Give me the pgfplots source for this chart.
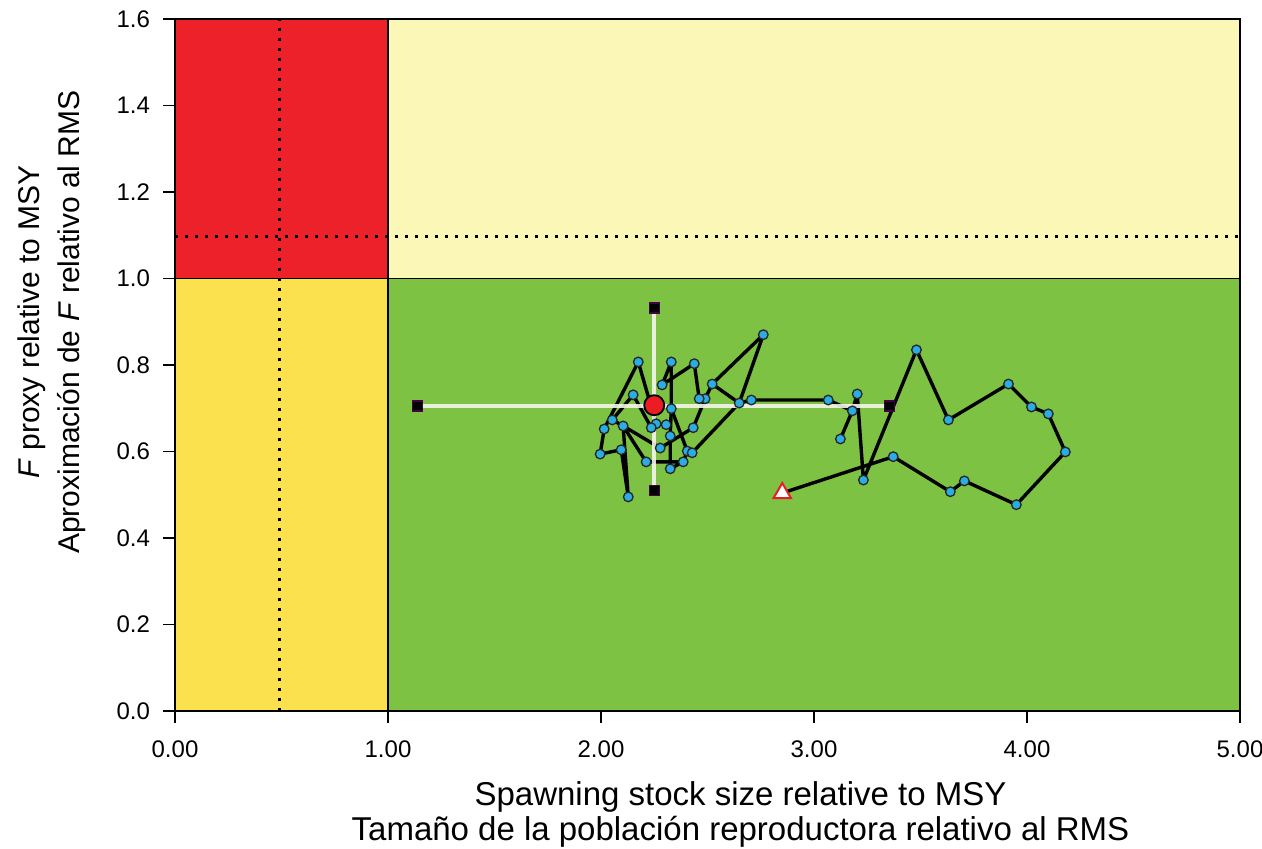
\documentclass[border=0pt]{standalone}
\usepackage{pgfplots}
\pgfplotsset{compat=1.18}
\usetikzlibrary{calc}
\usepackage{fontspec}
\setmainfont{Liberation Sans}
\definecolor{cRed}{HTML}{ED2129}
\definecolor{cLY}{HTML}{FAF7B7}
\definecolor{cY}{HTML}{FAE14D}
\definecolor{cG}{HTML}{7DC243}
\definecolor{cBlue}{HTML}{2BACE2}
\definecolor{cCI}{HTML}{F4F4EC}
\definecolor{cDot}{HTML}{ED1C24}
\begin{document}
\begin{tikzpicture}
\begin{axis}[
  scale only axis, width=532.5pt, height=346pt,
  xmin=0, xmax=5, ymin=0, ymax=1.6,
  xtick={0,1,2,3,4,5},
  ytick={0,0.2,0.4,0.6,0.8,1.0,1.2,1.4,1.6},
  tick pos=left, tick align=outside,
  major tick length=6pt,
  tick style={black, line width=0.75pt},
  axis line style={black, line width=0.9pt},
  axis on top,
  xticklabel shift=5.5pt,
  yticklabel shift=3pt,
  xticklabel style={font=\fontsize{12}{14}\selectfont, /pgf/number format/.cd, fixed, fixed zerofill, precision=2},
  yticklabel style={font=\fontsize{12}{14}\selectfont, /pgf/number format/.cd, fixed, fixed zerofill, precision=1},
  /pgf/number format/assume math mode=true,
  xlabel={Spawning stock size relative to MSY\\Tamaño de la población reproductora relativo al RMS},
  xlabel style={align=center, font=\fontsize{16.5}{17.5}\selectfont, at={(axis description cs:0.531,-0.0916)}, anchor=north},
  ylabel={\textit{F} proxy relative to MSY\\Aproximación de \textit{F} relativo al RMS},
  ylabel style={align=center, font=\fontsize{15}{20}\selectfont, at={(axis description cs:-0.077,0.562)}, anchor=south, rotate=0},
]
\coordinate (ll) at (rel axis cs:0,0);
\coordinate (ur) at (rel axis cs:1,1);
% regions
\addplot[fill=cRed, draw=none] coordinates {(0,1) (1,1) (1,1.6) (0,1.6) (0,1)};
\addplot[fill=cLY, draw=none] coordinates {(1,1) (5,1) (5,1.6) (1,1.6) (1,1)};
\addplot[fill=cY, draw=none] coordinates {(0,0) (1,0) (1,1) (0,1) (0,0)};
\addplot[fill=cG, draw=none] coordinates {(1,0) (5,0) (5,1) (1,1) (1,0)};
% reference lines
\addplot[black, line width=1.5pt, dash pattern=on 1.4pt off 3.6pt] coordinates {(0.49,0) (0.49,1.6)};
\addplot[black, line width=1.5pt, dash pattern=on 1.4pt off 3.6pt] coordinates {(0,1.097) (5,1.097)};
\addplot[black, line width=0.9pt] coordinates {(1,0) (1,1.6)};
\addplot[black, line width=0.9pt] coordinates {(0,1) (5,1)};
% trajectory lines
\pgfplotsset{traj/.style={black, line width=1.7pt, line join=round, line cap=round}}
\addplot[traj] coordinates {(2.851,0.504) (3.372,0.588) (3.640,0.507) (3.706,0.532) (3.950,0.477) (4.180,0.599) (4.100,0.687) (4.021,0.703) (3.913,0.756) (3.631,0.673) (3.481,0.835) (3.232,0.534) (3.203,0.733) (3.180,0.694) (3.124,0.629)};
\addplot[traj] coordinates {(3.180,0.694) (3.067,0.719) (2.706,0.719) (2.649,0.712) (2.762,0.870) (2.522,0.756) (2.489,0.722) (2.461,0.722) (2.438,0.803) (2.287,0.754) (2.330,0.807) (2.330,0.699) (2.405,0.601) (2.428,0.597) (2.649,0.712) (2.522,0.756)};
\addplot[traj] coordinates {(2.489,0.722) (2.433,0.655) (2.278,0.608) (2.104,0.659) (2.128,0.495) (2.095,0.604) (1.996,0.594) (2.015,0.652) (2.175,0.807) (2.259,0.664) (2.306,0.662)};
\addplot[traj] coordinates {(2.330,0.699) (2.325,0.636) (2.325,0.560) (2.386,0.576) (2.212,0.576) (2.104,0.659) (2.053,0.673) (2.151,0.731) (2.236,0.655)};
\addplot[traj] coordinates {(2.386,0.576) (2.405,0.601)};
% trajectory points
\addplot[only marks, mark=*, mark size=2.4pt, mark options={fill=cBlue, draw=black!85, line width=0.65pt}] coordinates {
(3.372,0.588) (3.640,0.507) (3.706,0.532) (3.950,0.477) (4.180,0.599) (4.100,0.687) (4.021,0.703) (3.913,0.756) (3.631,0.673) (3.481,0.835) (3.232,0.534) (3.203,0.733) (3.180,0.694) (3.124,0.629)
(3.067,0.719) (2.706,0.719) (2.649,0.712) (2.762,0.870) (2.522,0.756) (2.489,0.722) (2.461,0.722) (2.438,0.803) (2.287,0.754) (2.330,0.807) (2.330,0.699) (2.405,0.601) (2.428,0.597)
(2.433,0.655) (2.278,0.608) (2.104,0.659) (2.128,0.495) (2.095,0.604) (1.996,0.594) (2.015,0.652) (2.175,0.807) (2.259,0.664) (2.306,0.662)
(2.325,0.636) (2.325,0.560) (2.386,0.576) (2.212,0.576) (2.053,0.673) (2.151,0.731) (2.236,0.655)};
% first year
\addplot[only marks, mark=triangle*, mark size=5pt, mark options={fill=white, draw=cDot, line width=1pt}] coordinates {(2.851,0.504)};
% confidence intervals
\addplot[cCI, line width=2pt, opacity=0.9] coordinates {(1.137,0.705) (3.354,0.705)};
\addplot[cCI, line width=2pt, opacity=0.9] coordinates {(2.25,0.509) (2.25,0.932)};
\addplot[only marks, mark=square*, mark size=2.5pt, mark options={fill=black, draw=violet!55!black, line width=0.6pt}] coordinates {(1.137,0.705) (3.354,0.705) (2.25,0.509) (2.25,0.932)};
% current status
\addplot[only marks, mark=*, mark size=5pt, mark options={fill=cDot, draw=black, line width=0.9pt}] coordinates {(2.25,0.707)};
\end{axis}
\pgfresetboundingbox
\path ($(ll)+(-87.5pt,-69pt)$) rectangle ($(ur)+(11pt,9.5pt)$);
\end{tikzpicture}
\end{document}
